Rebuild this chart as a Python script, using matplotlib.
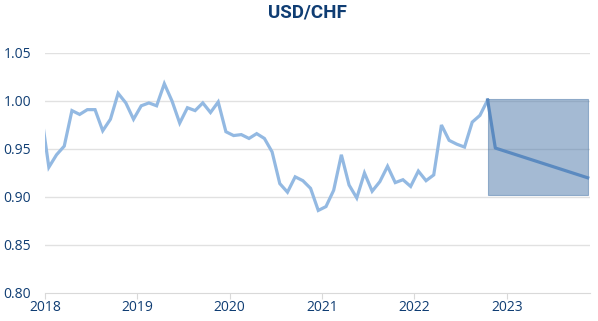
import numpy as np
from matplotlib import pyplot as plt

# monthly USD/CHF, Dec 2017 .. Oct 2022 (points plotted mid-month)
start_year = 2017
start_month = 12
usdchf = [0.988,
          0.931, 0.944, 0.953, 0.990, 0.986, 0.991, 0.991, 0.969, 0.981, 1.008, 0.998, 0.981,
          0.995, 0.998, 0.995, 1.018, 1.000, 0.977, 0.993, 0.990, 0.998, 0.988, 0.999, 0.968,
          0.964, 0.965, 0.961, 0.966, 0.961, 0.947, 0.914, 0.905, 0.921, 0.917, 0.909, 0.886,
          0.890, 0.907, 0.944, 0.9125, 0.899, 0.925, 0.906, 0.916, 0.932, 0.915, 0.918, 0.911,
          0.927, 0.917, 0.923, 0.975, 0.959, 0.955, 0.952, 0.978, 0.985, 1.001]

# forecast path: (year, month) -> value
forecast_months = [(2022, 10), (2022, 11), (2023, 11)]
forecast_values = [1.001, 0.951, 0.920]

# forecast range box
range_low = 0.902
range_high = 1.002

years = [2018, 2019, 2020, 2021, 2022, 2023]
y_ticks = [0.80, 0.85, 0.90, 0.95, 1.00, 1.05]


def to_t(year, month):
    return year + (month - 0.5) / 12


t_hist = [to_t(start_year + (start_month - 1 + i) // 12, (start_month - 1 + i) % 12 + 1)
          for i in range(len(usdchf))]
t_fc = [to_t(y, m) for y, m in forecast_months]

navy = '#0f3d73'
plt.rcParams['font.family'] = ['Open Sans', 'DejaVu Sans']

fig = plt.figure(figsize=(5.98, 3.21), dpi=100)
ax = fig.add_axes([45 / 598, 28 / 321, 545 / 598, 240 / 321])

for v in y_ticks[1:]:
    ax.axhline(v, color='#e1e1e1', lw=1.0, zorder=0)

ax.plot(t_hist, usdchf, color='#93b9e2', lw=2.3, solid_joinstyle='miter', zorder=2)
ax.fill_between([t_fc[0], t_fc[-1]], range_low, range_high,
                color='#4a77a8', alpha=0.5, lw=0.8, zorder=3)
ax.plot(t_fc, forecast_values, color='#5b8ac0', lw=2.3, zorder=4)

ax.set_xlim(2018, 2023.9)
ax.set_ylim(0.8, 1.05)
ax.set_xticks(years)
ax.set_xticklabels([str(y) for y in years])
ax.set_yticks(y_ticks)
ax.set_yticklabels(['%.2f' % v for v in y_ticks])

for s in ['top', 'right', 'left']:
    ax.spines[s].set_visible(False)
ax.spines['bottom'].set_color('#d9d9d9')
ax.tick_params(axis='x', colors='#d9d9d9', labelcolor=navy, labelsize=10, length=4, pad=1)
ax.tick_params(axis='y', length=0, labelcolor=navy, labelsize=10, pad=10)

fig.text(307 / 598, 0.962, 'USD/CHF', ha='center', va='center', color=navy,
         fontsize=13.5, fontweight='bold', family=['Roboto', 'DejaVu Sans'])

fig.savefig('out.png', dpi=100)
plt.close()
